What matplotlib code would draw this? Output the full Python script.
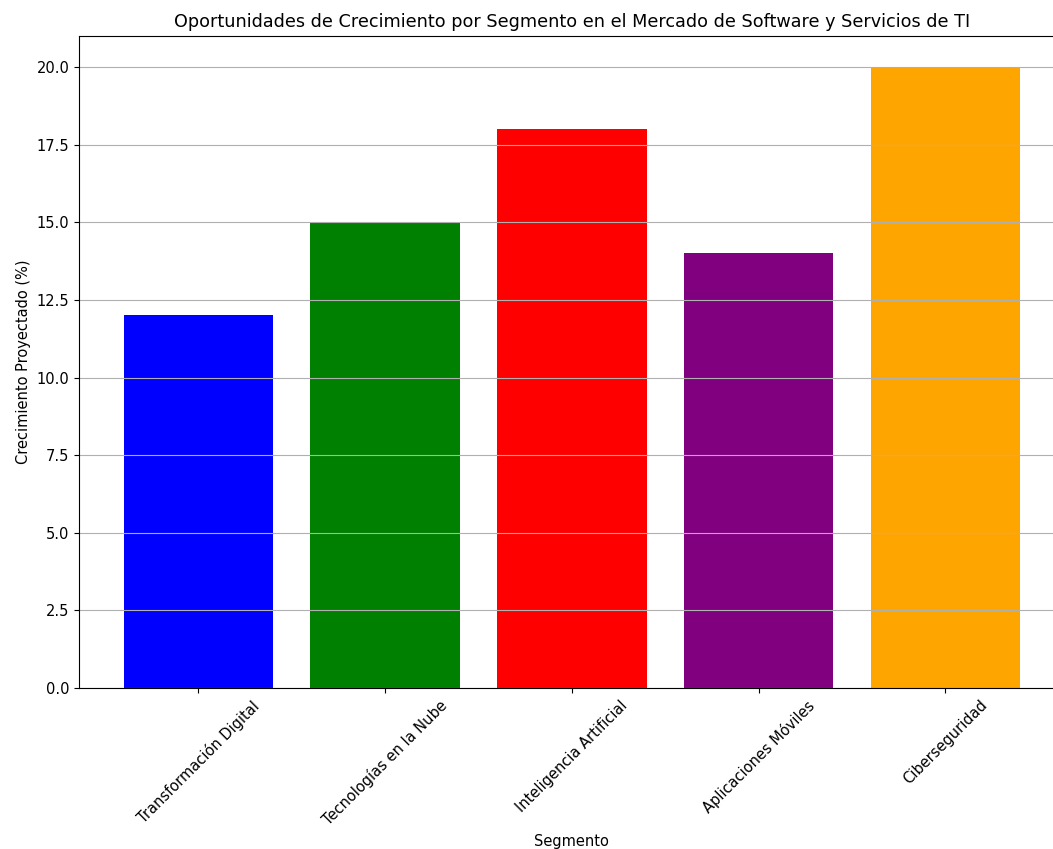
import matplotlib
matplotlib.use("Agg")
import matplotlib.pyplot as plt

segments = ["Transformación Digital", "Tecnologías en la Nube", "Inteligencia Artificial",
            "Aplicaciones Móviles", "Ciberseguridad"]
growth = [12, 15, 18, 14, 20]
colors = ["blue", "green", "red", "purple", "orange"]

plt.rcParams["font.size"] = 10.5

fig = plt.figure(figsize=(10.53, 8.49), dpi=100)
ax = fig.add_axes([79 / 1053, 1 - 688 / 849, 985.7 / 1053, (688 - 36) / 849])

ax.bar(segments, growth, color=colors)
ax.set_title("Oportunidades de Crecimiento por Segmento en el Mercado de Software y Servicios de TI",
             fontsize=12.7, pad=6.5)
ax.set_xlabel("Segmento")
ax.set_ylabel("Crecimiento Proyectado (%)")
ax.set_ylim(0, 21)
ax.tick_params(axis="x", labelrotation=45)
ax.grid(axis="y")

fig.savefig("out.png", dpi=100)
